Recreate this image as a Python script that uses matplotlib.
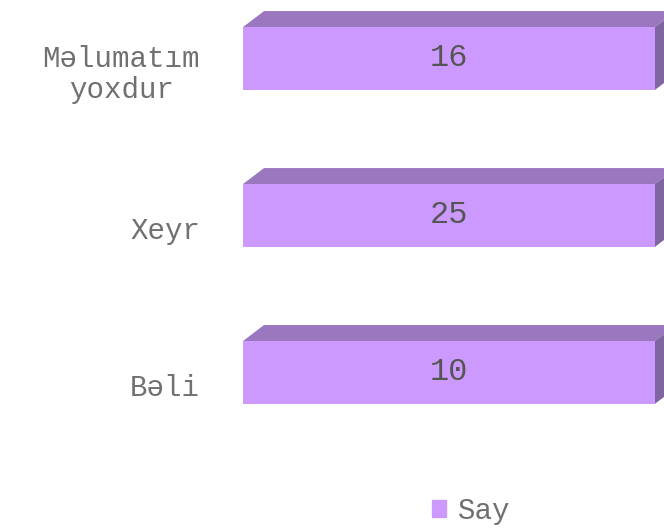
import matplotlib.pyplot as plt
from matplotlib.patches import Polygon
from matplotlib.transforms import ScaledTranslation
import numpy as np

categories = ['Bəli', 'Xeyr', 'Məlumatım\nyoxdur']
values = [10, 25, 16]
series_name = 'Say'

font = ['Liberation Mono', 'DejaVu Sans Mono']
front_color = '#CC99FF'
top_color = '#9B77BF'
side_color = '#7F66A0'

W, H = 664, 528
fig = plt.figure(figsize=(W / 100, H / 100), dpi=100)
# axes spans front faces of the bars (px 243..655)
ax = fig.add_axes([243 / W, 30 / H, 412 / W, 497.6 / H])

xmax = 9.0
bar_h = 0.4
ax.set_xlim(0, xmax)
ax.set_ylim(-0.8, 2.37)

y = np.arange(len(categories))
widths = np.minimum(values, xmax)  # bars run past the plot area, clipped
ax.barh(y, widths, height=bar_h, color=front_color, edgecolor='none', zorder=2)

# depth of the 3d look, in data units
dx = 21 / 412 * xmax
dy = 16 / 157
for yi, w in zip(y, widths):
    top = yi + bar_h / 2
    bot = yi - bar_h / 2
    ax.add_patch(Polygon([(0, top), (dx, top + dy), (w + dx, top + dy), (w, top)],
                         closed=True, facecolor=top_color, edgecolor='none',
                         clip_on=False, zorder=1))
    ax.add_patch(Polygon([(w, bot), (w, top), (w + dx, top + dy), (w + dx, bot + dy)],
                         closed=True, facecolor=side_color, edgecolor='none',
                         clip_on=False, zorder=1))

for yi, w, v in zip(y, widths, values):
    ax.text(w / 2, yi, str(v), ha='center', va='center', fontsize=23,
            family=font, color='#555555', zorder=3)

# category labels sit a bit lower than the bar fronts (3d projection)
lab_tr = ax.get_yaxis_transform() + ScaledTranslation(-43 / 100, -16 / 100, fig.dpi_scale_trans)
for yi, c in zip(y, categories):
    ax.text(0, yi, c, transform=lab_tr, ha='right', va='center',
            multialignment='center', fontsize=21, family=font,
            color='#707070', linespacing=1.15)

ax.set_xticks([])
ax.set_yticks([])
for s in ax.spines.values():
    s.set_visible(False)

leg = fig.legend(handles=[plt.Rectangle((0, 0), 1, 1, color=front_color)],
                 labels=[series_name], loc='center', bbox_to_anchor=(471 / W, 1 - 511 / H),
                 frameon=False, handlelength=0.5, handleheight=0.5, handletextpad=0.4,
                 borderpad=0, prop={'family': font, 'size': 21})
for t in leg.get_texts():
    t.set_color('#707070')

fig.savefig('out.png', dpi=100)
